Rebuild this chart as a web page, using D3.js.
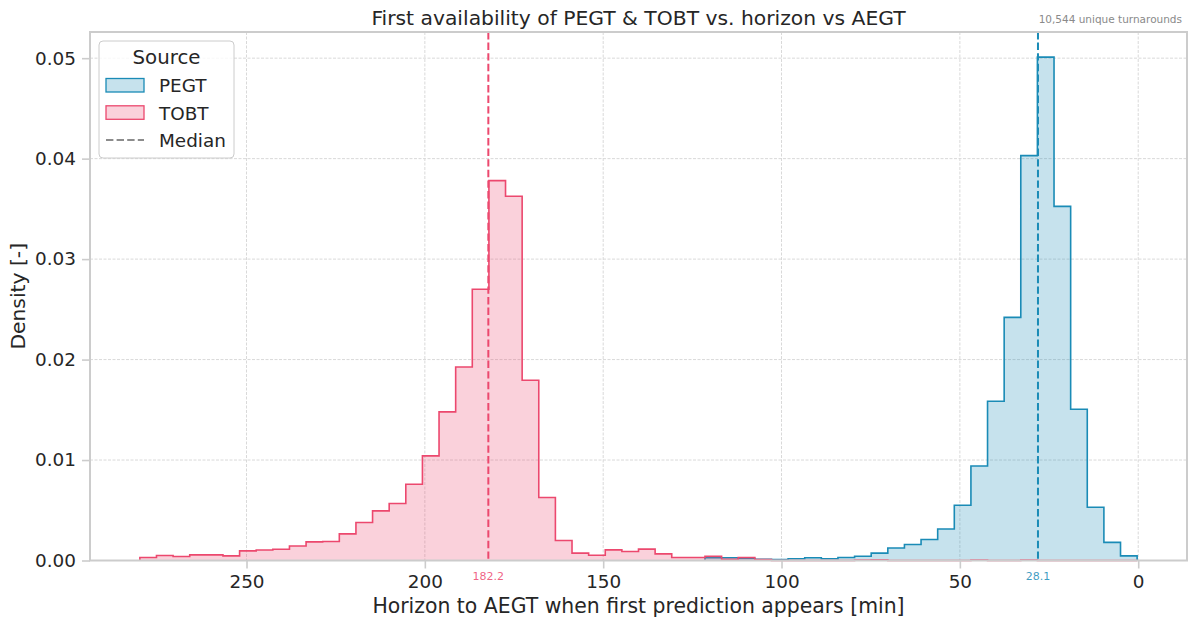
<!DOCTYPE html>
<html>
<head>
<meta charset="utf-8">
<script src="https://cdn.jsdelivr.net/npm/d3@7"></script>
<style>
  body { margin: 0; background: #fff; }
  svg { display: block; font-family: "DejaVu Sans", sans-serif; }
</style>
</head>
<body>
<svg id="chart" width="1189" height="621"></svg>
<script>
// Histogram bins (minutes before AEGT); bin k covers [binLow + k*binWidth, binLow + (k+1)*binWidth)
const binLow = 0.3;
const binWidth = 4.66;
const binCount = 60;

// Density per bin, index 0 = bin closest to AEGT
const pegtDensity = [
  0.00046, 0.0018, 0.0053, 0.01505, 0.03525, 0.0501, 0.0403, 0.0242, 0.01585, 0.0094,
  0.0055, 0.00314, 0.00209, 0.00159, 0.00125, 0.00073, 0.00043, 0.0003, 0.00017, 0.00027,
  0.00017, 0.0001, 0.00013, 0.0002, 0.00027, 0.00027
];
const tobtDensity = [
  0, 0, 0, 0, 0, 0, 0.00004, 0, 0, 0.00004,
  0, 0, 0, 0, 0, 0.00008, 0.00005, 0, 0, 0,
  0, 0, 0.0001, 0.0003, 0.00013, 0.00043, 0.0003, 0.0003, 0.00066, 0.00113,
  0.0009, 0.00106, 0.00053, 0.00073, 0.00199, 0.00627, 0.01794, 0.03625, 0.03781, 0.027,
  0.01926, 0.01479, 0.01041, 0.00759, 0.00567, 0.00494, 0.00378, 0.00265, 0.00189, 0.00185,
  0.00145, 0.00112, 0.00105, 0.00096, 0.00046, 0.00056, 0.00056, 0.0004, 0.0005, 0.0003
];

const sourceNames = ["PEGT", "TOBT"];
const sourceColors = ["#1a8bb6", "#ec486e"];
const medianValues = [28.1, 182.2];
const medianLabels = ["28.1", "182.2"];

const xTickValues = [250, 200, 150, 100, 50, 0];
const yTickValues = [0, 0.01, 0.02, 0.03, 0.04, 0.05];

const titleText = "First availability of PEGT & TOBT vs. horizon vs AEGT";
const noteText = "10,544 unique turnarounds";
const xLabelText = "Horizon to AEGT when first prediction appears [min]";
const yLabelText = "Density [-]";

// ---- layout ----
const svg = d3.select("#chart");
const plot = { left: 90, right: 1187, top: 32, bottom: 560.5 };
const ink = "#262626";
const frameColor = "#cccccc";

const binHigh = binLow + binCount * binWidth;
const pad = 0.05 * (binHigh - binLow);
const x = d3.scaleLinear()
  .domain([binHigh + pad, binLow - pad])   // horizon decreases to the right
  .range([plot.left, plot.right]);

const maxDensity = d3.max([...pegtDensity, ...tobtDensity]);
const y = d3.scaleLinear()
  .domain([0, maxDensity * 1.05])
  .range([plot.bottom, plot.top]);

// ---- grid ----
const grid = svg.append("g");
grid.selectAll("line.gx").data(xTickValues).join("line")
  .attr("x1", d => x(d)).attr("x2", d => x(d))
  .attr("y1", plot.top).attr("y2", plot.bottom)
  .attr("stroke", "#d9d9d9").attr("stroke-width", 1).attr("stroke-dasharray", "3,1.5");
grid.selectAll("line.gy").data(yTickValues).join("line")
  .attr("x1", plot.left).attr("x2", plot.right)
  .attr("y1", d => y(d)).attr("y2", d => y(d))
  .attr("stroke", "#d9d9d9").attr("stroke-width", 1).attr("stroke-dasharray", "3,1.5");

// ---- step histograms ----
function stepPoints(values) {
  const pts = [[binLow, 0]];
  values.forEach((v, k) => {
    const lo = binLow + k * binWidth, hi = lo + binWidth;
    pts.push([lo, v], [hi, v]);
  });
  pts.push([binLow + values.length * binWidth, 0]);
  return pts;
}
const area = d3.area().x(d => x(d[0])).y0(y(0)).y1(d => y(d[1]));
const line = d3.line().x(d => x(d[0])).y(d => y(d[1]));

[pegtDensity, tobtDensity].forEach((vals, i) => {
  const pts = stepPoints(vals);
  svg.append("path").datum(pts).attr("d", area)
    .attr("fill", sourceColors[i]).attr("fill-opacity", 0.25).attr("stroke", "none");
  svg.append("path").datum(pts).attr("d", line)
    .attr("fill", "none").attr("stroke", sourceColors[i])
    .attr("stroke-width", 1.6).attr("stroke-linejoin", "miter");
});

// ---- median markers ----
medianValues.forEach((m, i) => {
  svg.append("line")
    .attr("x1", x(m)).attr("x2", x(m))
    .attr("y1", plot.top).attr("y2", plot.bottom)
    .attr("stroke", sourceColors[i]).attr("stroke-width", 2)
    .attr("stroke-dasharray", "7.4,3.2");
  svg.append("text")
    .attr("x", x(m)).attr("y", 580)
    .attr("text-anchor", "middle")
    .attr("font-size", 11)
    .attr("fill", sourceColors[i]).attr("fill-opacity", 0.85)
    .text(medianLabels[i]);
});

// ---- frame ----
svg.append("rect")
  .attr("x", plot.left).attr("y", plot.top)
  .attr("width", plot.right - plot.left).attr("height", plot.bottom - plot.top)
  .attr("fill", "none").attr("stroke", frameColor).attr("stroke-width", 2);

// ---- axes ----
const xAxis = svg.append("g")
  .attr("transform", `translate(0,${plot.bottom})`)
  .call(d3.axisBottom(x).tickValues(xTickValues).tickFormat(d3.format("d"))
    .tickSize(8).tickPadding(6));
const yAxis = svg.append("g")
  .attr("transform", `translate(${plot.left},0)`)
  .call(d3.axisLeft(y).tickValues(yTickValues).tickFormat(d3.format(".2f"))
    .tickSize(8).tickPadding(6));
[xAxis, yAxis].forEach(g => {
  g.select(".domain").remove();
  g.selectAll(".tick line").attr("stroke", frameColor).attr("stroke-width", 1.6);
  g.selectAll(".tick text").attr("fill", ink).attr("font-size", 18.4)
    .attr("font-family", "DejaVu Sans, sans-serif");
});

// ---- labels ----
svg.append("text")
  .attr("x", (plot.left + plot.right) / 2).attr("y", 24.5)
  .attr("text-anchor", "middle").attr("font-size", 20.3).attr("fill", ink)
  .text(titleText);
svg.append("text")
  .attr("x", 1182).attr("y", 23)
  .attr("text-anchor", "end").attr("font-size", 10.5).attr("fill", "#8a8a8a")
  .text(noteText);
svg.append("text")
  .attr("x", (plot.left + plot.right) / 2).attr("y", 613)
  .attr("text-anchor", "middle").attr("font-size", 20.4).attr("fill", ink)
  .text(xLabelText);
svg.append("text")
  .attr("transform", `translate(25,${(plot.top + plot.bottom) / 2}) rotate(-90)`)
  .attr("text-anchor", "middle").attr("font-size", 20.3).attr("fill", ink)
  .text(yLabelText);

// ---- legend ----
const legend = svg.append("g");
legend.append("rect")
  .attr("x", 99).attr("y", 41).attr("width", 135).attr("height", 117).attr("rx", 4)
  .attr("fill", "#fff").attr("fill-opacity", 0.8)
  .attr("stroke", frameColor).attr("stroke-width", 1);
legend.append("text")
  .attr("x", 166.5).attr("y", 64.3).attr("text-anchor", "middle")
  .attr("font-size", 19.8).attr("fill", ink).text("Source");
sourceNames.forEach((name, i) => {
  const top = 78.5 + i * 27.3;
  legend.append("rect")
    .attr("x", 106).attr("y", top).attr("width", 38).attr("height", 13.5)
    .attr("fill", sourceColors[i]).attr("fill-opacity", 0.25)
    .attr("stroke", sourceColors[i]).attr("stroke-width", 1.3);
  legend.append("text")
    .attr("x", 159).attr("y", top + 13.8)
    .attr("font-size", 18.4).attr("fill", ink).text(name);
});
legend.append("line")
  .attr("x1", 106).attr("x2", 144).attr("y1", 140).attr("y2", 140)
  .attr("stroke", "#8c8c8c").attr("stroke-width", 2).attr("stroke-dasharray", "7.4,3.2");
legend.append("text")
  .attr("x", 159).attr("y", 146.7)
  .attr("font-size", 18.4).attr("fill", ink).text("Median");
</script>
</body>
</html>
